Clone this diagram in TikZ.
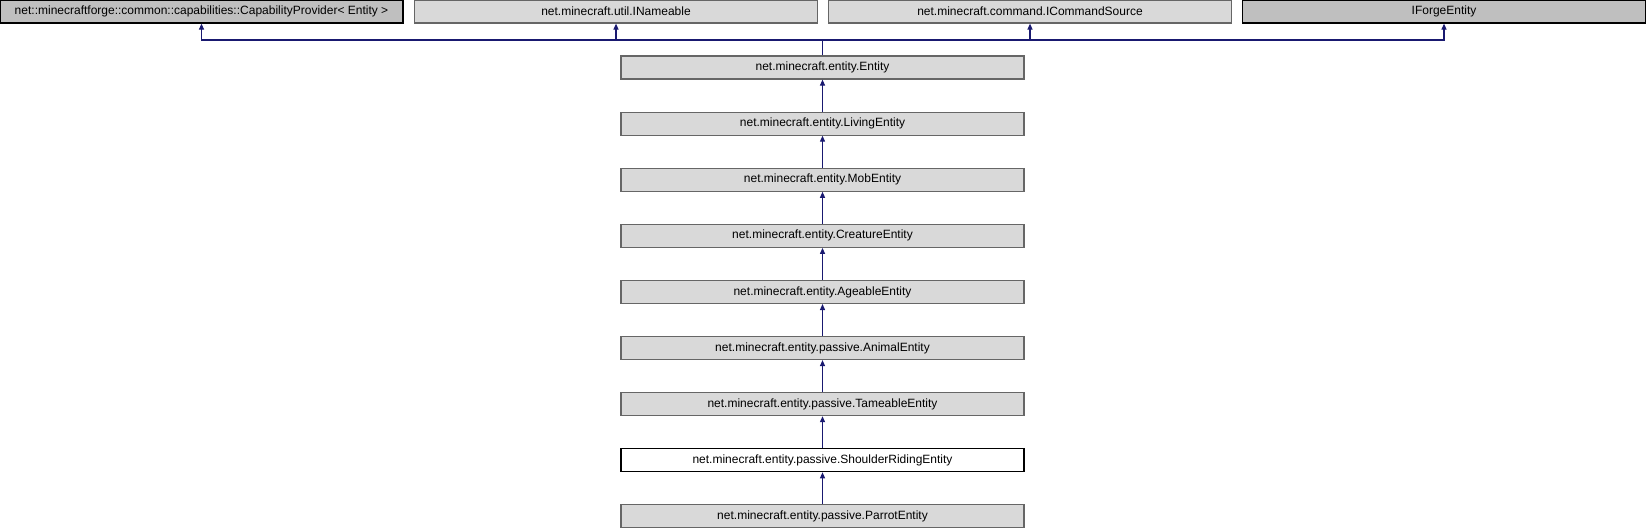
\documentclass[tikz,border=0pt]{standalone}
\usepackage{fontspec}
\setmainfont{Liberation Sans}
\usepackage{tikz}
\usetikzlibrary{arrows.meta, positioning}
\definecolor{edgeNavy}{RGB}{25, 25, 112}
\definecolor{clsFill}{RGB}{217, 217, 217}
\definecolor{clsLine}{RGB}{102, 102, 102}
\definecolor{extFill}{RGB}{191, 191, 191}

\tikzset{
    cls/.style={draw=clsLine, fill=clsFill, line width=1.2pt, minimum width=403pt, minimum height=23pt, inner sep=0pt, font=\fontsize{12}{14}\selectfont},
    extcls/.style={cls, draw=black, fill=extFill},
    curcls/.style={cls, draw=black, fill=white},
    edge/.style={-{Triangle[length=6pt, width=5pt]}, line width=1.2pt, color=edgeNavy}
}

\begin{document}
\begin{tikzpicture}[x=1pt, y=-1pt]
    \useasboundingbox (0, 0) rectangle (1646, 528);

    % Top row: base classes and interfaces
    \node[extcls] (capprov) at (201.5, 11.5) {net::minecraftforge::common::capabilities::CapabilityProvider< Entity >};
    \node[cls] (nameable) at (616, 11.5) {net.minecraft.util.INameable};
    \node[cls] (cmdsource) at (1030, 11.5) {net.minecraft.command.ICommandSource};
    \node[extcls] (forgeent) at (1444, 11.5) {IForgeEntity};

    % Inheritance chain
    \node[cls] (entity) at (822.5, 67.5) {net.minecraft.entity.Entity};
    \node[cls] (living) at (822.5, 123.6) {net.minecraft.entity.LivingEntity};
    \node[cls] (mob) at (822.5, 179.7) {net.minecraft.entity.MobEntity};
    \node[cls] (creature) at (822.5, 235.8) {net.minecraft.entity.CreatureEntity};
    \node[cls] (ageable) at (822.5, 291.9) {net.minecraft.entity.AgeableEntity};
    \node[cls] (animal) at (822.5, 348.0) {net.minecraft.entity.passive.AnimalEntity};
    \node[cls] (tameable) at (822.5, 404.1) {net.minecraft.entity.passive.TameableEntity};
    \node[curcls] (shoulder) at (822.5, 460.2) {net.minecraft.entity.passive.ShoulderRidingEntity};
    \node[cls] (parrot) at (822.5, 516.3) {net.minecraft.entity.passive.ParrotEntity};

    % Arrows to the top row
    \coordinate (hub) at (822.5, 40);
    \draw[line width=1.2pt, color=edgeNavy] (entity.north) -- (hub);
    \draw[edge] (hub) -| (capprov.south);
    \draw[edge] (hub) -| (nameable.south);
    \draw[edge] (hub) -| (cmdsource.south);
    \draw[edge] (hub) -| (forgeent.south);

    % Arrows down the chain
    \draw[edge] (living) -- (entity);
    \draw[edge] (mob) -- (living);
    \draw[edge] (creature) -- (mob);
    \draw[edge] (ageable) -- (creature);
    \draw[edge] (animal) -- (ageable);
    \draw[edge] (tameable) -- (animal);
    \draw[edge] (shoulder) -- (tameable);
    \draw[edge] (parrot) -- (shoulder);
\end{tikzpicture}
\end{document}
